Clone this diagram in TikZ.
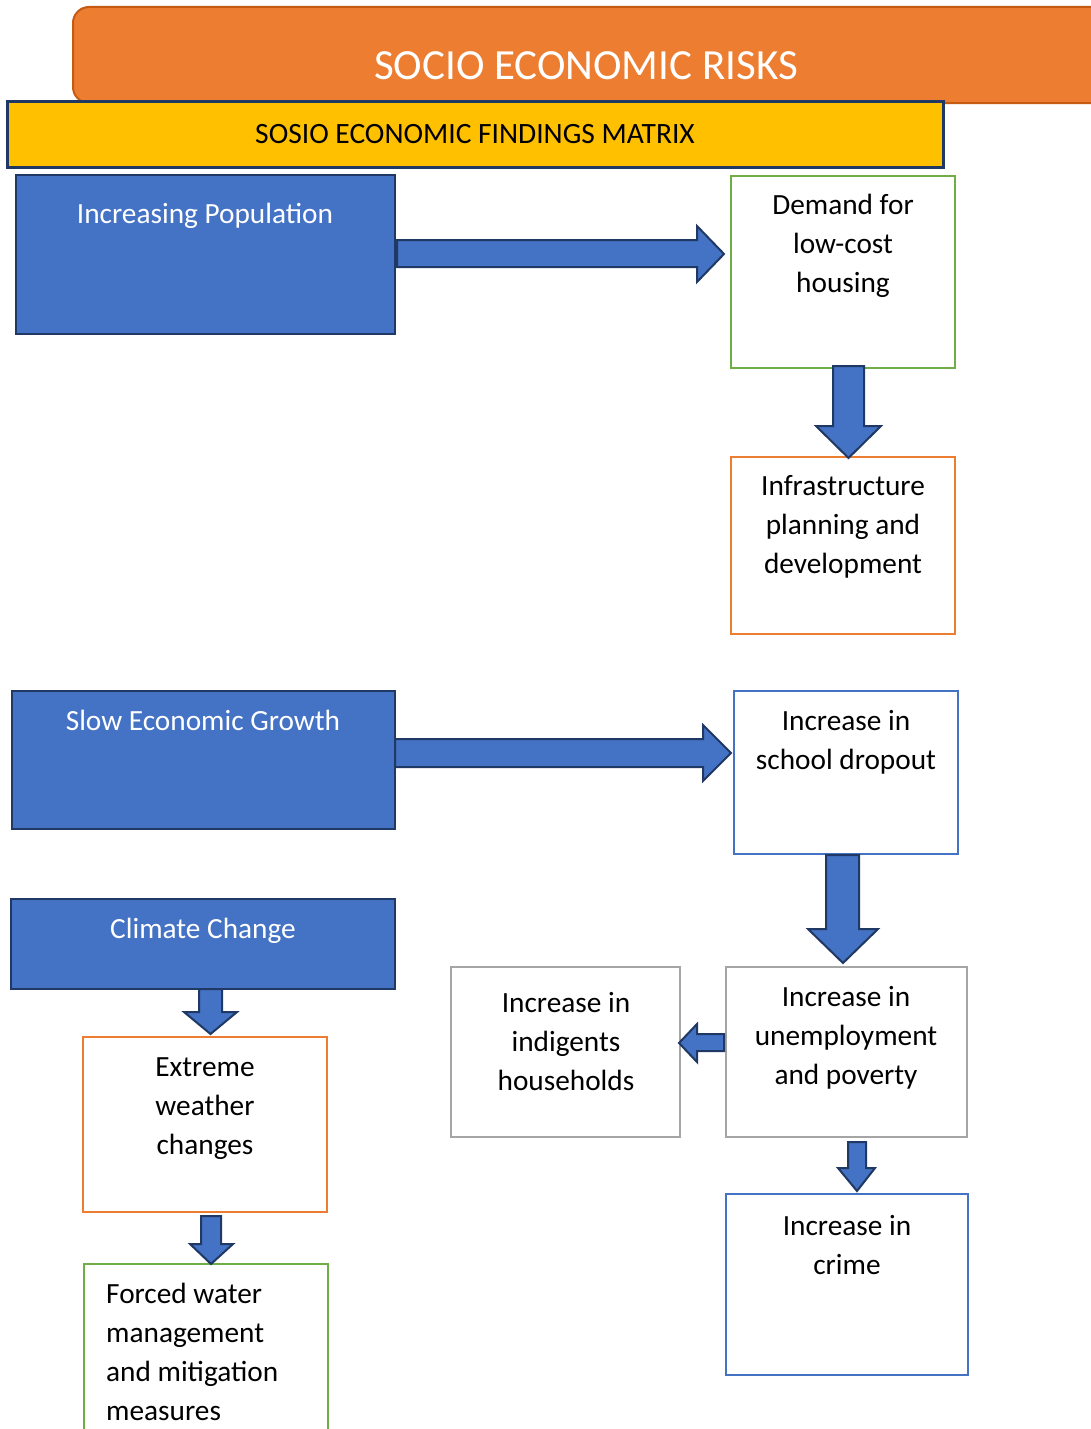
\documentclass[tikz,border=0pt]{standalone}
\usepackage{fontspec}
\setmainfont{Carlito}
\definecolor{borange}{HTML}{ED7D31}
\definecolor{dorange}{HTML}{C55A11}
\definecolor{byellow}{HTML}{FFC000}
\definecolor{bblue}{HTML}{4472C4}
\definecolor{dnavy}{HTML}{1F3864}
\definecolor{bgreen}{HTML}{70AD47}
\definecolor{bgray}{HTML}{A5A5A5}
\begin{document}
\begin{tikzpicture}[x=1pt,y=-1pt,
  box/.style={draw, line width=2.4pt, fill=white},
  bluebox/.style={draw=dnavy, fill=bblue, line width=2.4pt},
  blockarrow/.style={draw=dnavy, fill=bblue, line width=2pt, line join=miter},
  txt/.style={inner sep=0pt, anchor=base, align=center, font=\fontsize{29.3}{38.8}\selectfont},
  wtxt/.style={txt, text=white}]
\clip (0,0) rectangle (1091,1429);
\fill[white] (0,0) rectangle (1091,1429);

% header
\path[draw=dorange, fill=borange, line width=2pt, rounded corners=16pt] (73,7) rectangle (1120,103);
\node[inner sep=0pt, anchor=base, text=white, font=\fontsize{43}{50}\selectfont] (title) at (586,80) {SOCIO ECONOMIC RISKS};
\path[draw=dnavy, fill=byellow, line width=3pt] (7,101) rectangle (943,167);
\node[txt, font=\fontsize{29.5}{36}\selectfont] (matrix) at (475,143) {SOSIO ECONOMIC FINDINGS MATRIX};

% boxes
\path[bluebox] (16,175) rectangle (395,334);
\node[wtxt] (pop) at (205,223) {Increasing Population};
\path[box, draw=bgreen] (731,176) rectangle (955,368);
\node[txt] (demand) at (843,292) {Demand for\\low-cost\\housing};
\path[box, draw=borange] (731,457) rectangle (955,634);
\node[txt] (infra) at (843,573) {Infrastructure\\planning and\\development};

\path[bluebox] (12,691) rectangle (395,829);
\node[wtxt] (slow) at (203,730) {Slow Economic Growth};
\path[box, draw=bblue] (734,691) rectangle (958,854);
\node[txt] (school) at (846,769) {Increase in\\school dropout};

\path[bluebox] (11,899) rectangle (395,989);
\node[wtxt] (climate) at (203,938) {Climate Change};
\path[box, draw=borange] (83,1037) rectangle (327,1212);
\node[txt] (extreme) at (205,1154) {Extreme\\weather\\changes};
\path[box, draw=bgreen] (84,1264) rectangle (328,1450);
\node[txt, anchor=base west, align=left] (forced) at (106,1420) {Forced water\\management\\and mitigation\\measures};

\path[box, draw=bgray] (451,967) rectangle (680,1137);
\node[txt] (indig) at (566,1090) {Increase in\\indigents\\households};
\path[box, draw=bgray] (726,967) rectangle (967,1137);
\node[txt] (unemp) at (846,1084) {Increase in\\unemployment\\and poverty};
\path[box, draw=bblue] (726,1194) rectangle (968,1375);
\node[txt] (crime) at (847,1274) {Increase in\\crime};

% block arrows
\path[blockarrow] (397,240) -- (697,240) -- (697,226) -- (724,254) -- (697,282) -- (697,267) -- (397,267) -- cycle;
\path[blockarrow] (833,366) -- (864,366) -- (864,426) -- (881,426) -- (848.5,458) -- (816,426) -- (833,426) -- cycle;
\path[blockarrow] (395,739) -- (703,739) -- (703,725) -- (731,753) -- (703,781) -- (703,767) -- (395,767) -- cycle;
\path[blockarrow] (826,855) -- (859,855) -- (859,929) -- (878,929) -- (843,963) -- (808,929) -- (826,929) -- cycle;
\path[blockarrow] (199,989) -- (222,989) -- (222,1012) -- (237,1012) -- (210.5,1034) -- (184,1012) -- (199,1012) -- cycle;
\path[blockarrow] (201,1216) -- (221,1216) -- (221,1244) -- (233,1244) -- (211,1264) -- (190,1244) -- (201,1244) -- cycle;
\path[blockarrow] (724,1034) -- (697,1034) -- (697,1024) -- (679,1043) -- (697,1062) -- (697,1051) -- (724,1051) -- cycle;
\path[blockarrow] (848,1142) -- (866,1142) -- (866,1168) -- (875,1168) -- (857,1191) -- (838,1168) -- (848,1168) -- cycle;
\end{tikzpicture}
\end{document}
